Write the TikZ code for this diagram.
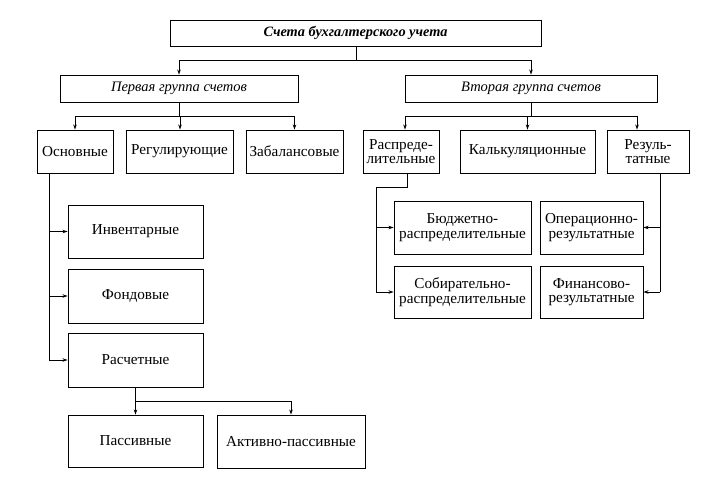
\documentclass[tikz,border=0pt]{standalone}
\usepackage{fontspec}
\setmainfont{Liberation Serif}
\usetikzlibrary{arrows.meta}
\begin{document}
\begin{tikzpicture}[x=1pt,y=-1pt,
  every node/.style={font=\fontsize{15.2}{14.5}\selectfont},
  bx/.style={draw,line width=0.9pt,inner sep=0pt,align=center},
  ln/.style={line width=0.9pt},
  ar/.style={line width=0.9pt,-{Stealth[length=5pt,width=3.5pt]}}]
\useasboundingbox (0,0) rectangle (714,496);
% boxes
\node[bx,minimum width=371,minimum height=26,font=\fontsize{14.3}{14}\selectfont\bfseries\itshape] (top) at (355.5,33) {Счета бухгалтерского учета};
\node[bx,minimum width=238,minimum height=27,font=\fontsize{14.5}{14}\selectfont\itshape] (g1) at (179,88.5) {Первая группа счетов};
\node[bx,minimum width=252,minimum height=27,font=\fontsize{14.5}{14}\selectfont\itshape] (g2) at (531,88.5) {Вторая группа счетов};
\node[bx,minimum width=76,minimum height=43] (osn) at (75,151.5) {Основные};
\node[bx,minimum width=107,minimum height=43] (reg) at (179.5,151.5) {Регулирующие};
\node[bx,minimum width=97,minimum height=43] (zab) at (294.5,151.5) {Забалансовые};
\node[bx,minimum width=76,minimum height=43] (rasp) at (401,151.5) {Распреде-\\лительные};
\node[bx,minimum width=135,minimum height=43] (kalk) at (527.5,151.5) {Калькуляционные};
\node[bx,minimum width=82,minimum height=43] (rez) at (648,151.5) {Резуль-\\татные};
\node[bx,minimum width=135,minimum height=53] (inv) at (135.5,231.5) {Инвентарные};
\node[bx,minimum width=135,minimum height=54] (fond) at (135.5,296) {Фондовые};
\node[bx,minimum width=135,minimum height=54] (rasch) at (135.5,360) {Расчетные};
\node[bx,minimum width=135,minimum height=52] (pass) at (135.5,441) {Пассивные};
\node[bx,minimum width=148,minimum height=53] (ap) at (291,441.5) {Активно-пассивные};
\node[bx,minimum width=137,minimum height=53] (bud) at (462.5,227.5) {Бюджетно-\\распределительные};
\node[bx,minimum width=137,minimum height=52] (sob) at (462.5,292) {Собирательно-\\распределительные};
\node[bx,minimum width=103,minimum height=53] (oper) at (591.5,227.5) {Операционно-\\результатные};
\node[bx,minimum width=103,minimum height=52] (fin) at (591.5,292) {Финансово-\\результатные};
% top connectors
\coordinate (j1) at (356,60);
\draw[ln] (top.south -| j1) -- (j1);
\draw[ar] (j1) -| (g1.north);
\draw[ar] (j1) -| (g2.north);
% group 1
\coordinate (j2) at (179,116);
\draw[ln] (g1.south) -- (j2);
\draw[ar] (j2) -| (osn.north);
\draw[ar] (j2) -| ([xshift=0.5]reg.north);
\draw[ar] (j2) -| (zab.north);
% group 2
\coordinate (j3) at (531,116);
\draw[ln] (g2.south) -- (j3);
\draw[ar] (j3) -| ([xshift=4]rasp.north);
\draw[ar] (j3) -| (kalk.north);
\draw[ar] (j3) -| ([xshift=-11]rez.north);
% osnovnye
\coordinate (k) at (49,360);
\draw[ln] (osn.south -| k) -- (k);
\draw[ar] (inv.west -| k) -- (inv.west);
\draw[ar] (fond.west -| k) -- (fond.west);
\draw[ar] (k) -- (rasch.west);
% raschetnye
\coordinate (j4) at (136,401);
\draw[ar] (rasch.south) -- (pass.north);
\draw[ar] (j4) -| (ap.north);
% raspredelitelnye
\coordinate (m1) at (407,187);
\coordinate (m2) at (376,292);
\draw[ln] (rasp.south -| m1) -- (m1) -| (m2);
\draw[ar] (bud.west -| m2) -- (bud.west);
\draw[ar] (m2) -- (sob.west);
% rezultatnye
\coordinate (r) at (660,292);
\draw[ln] (rez.south -| r) -- (r);
\draw[ar] (oper.east -| r) -- (oper.east);
\draw[ar] (r) -- (fin.east);
\end{tikzpicture}
\end{document}
